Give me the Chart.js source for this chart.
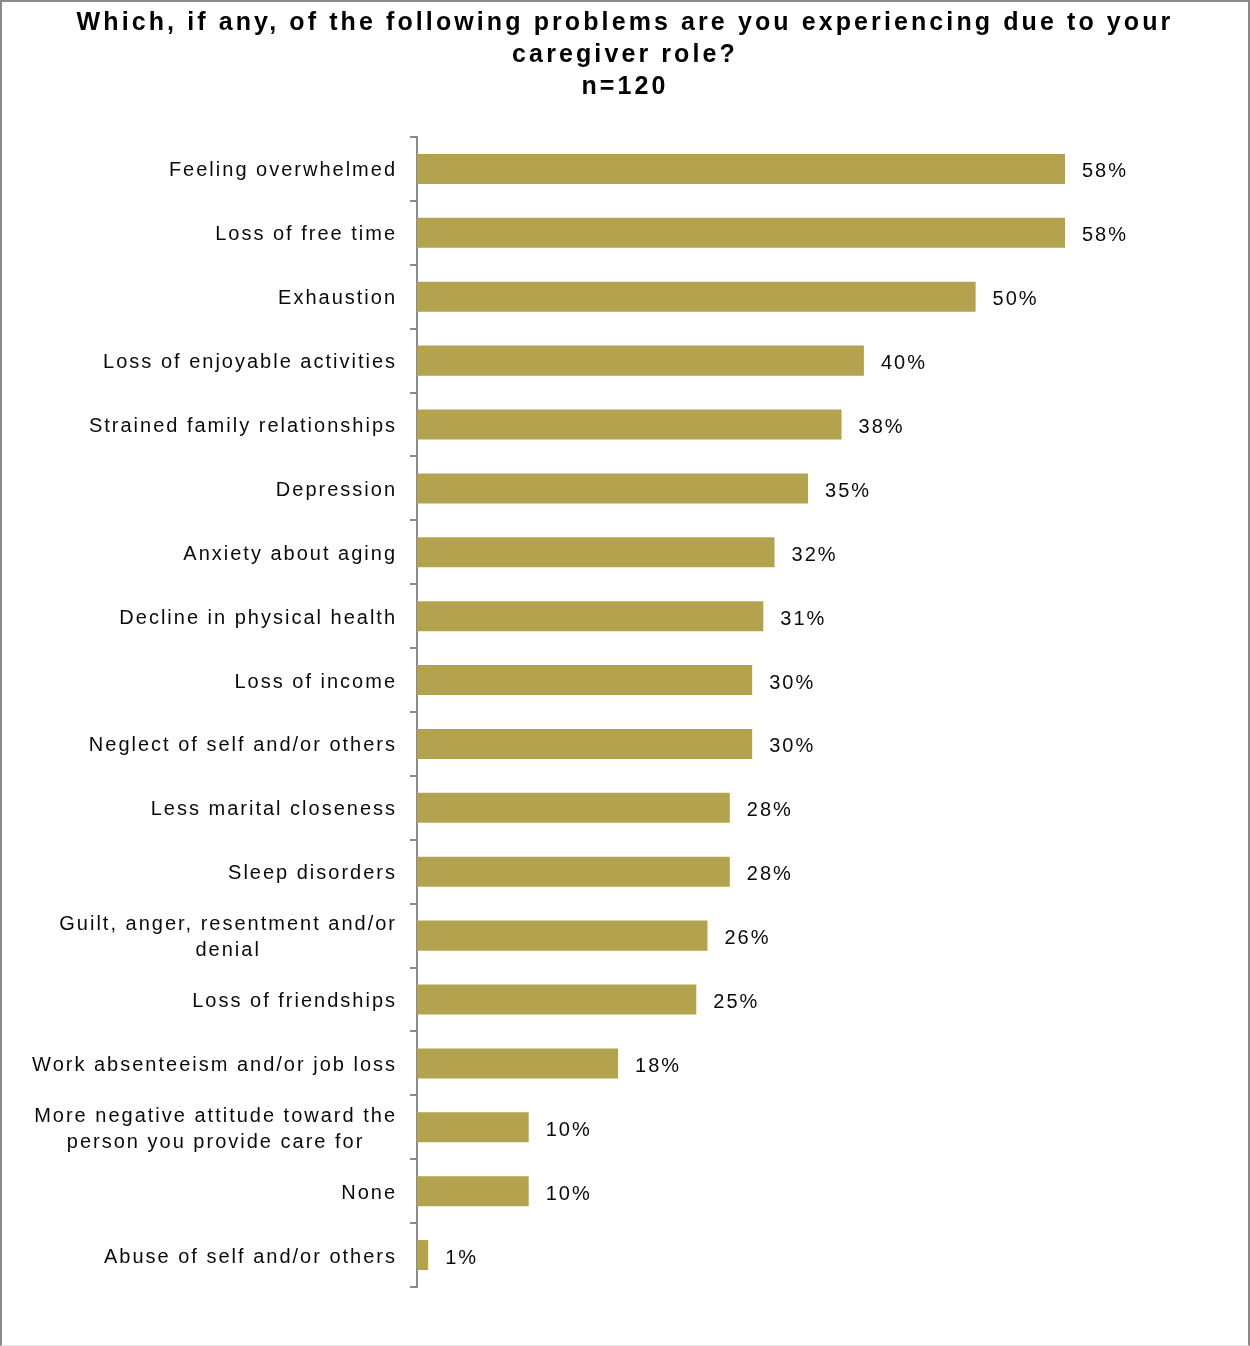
<!DOCTYPE html>
<html>
<head>
<meta charset="utf-8">
<script src="https://cdn.jsdelivr.net/npm/chart.js@4.4.1/dist/chart.umd.min.js"></script>
<style>
  html, body { margin: 0; padding: 0; background: #fff; }
  #wrap { position: relative; width: 1250px; height: 1346px; }
  #c { position: absolute; left: 0; top: 0; }
  #frame { position: absolute; left: 0; top: 0; width: 1250px; height: 1346px; box-sizing: border-box;
    border-top: 2px solid #8a8a8a; border-left: 2px solid #8a8a8a; border-right: 2px solid #8a8a8a;
    border-bottom: 1px solid #e2e2e2; pointer-events: none; }
</style>
</head>
<body>
<div id="wrap">
  <canvas id="c" width="1250" height="1346"></canvas>
  <div id="frame"></div>
</div>
<script>
const titleLines = [
  "Which, if any, of the following problems are you experiencing due to your",
  "caregiver role?",
  "n=120"
];
const categories = [
  ["Feeling overwhelmed"],
  ["Loss of free time"],
  ["Exhaustion"],
  ["Loss of enjoyable activities"],
  ["Strained family relationships"],
  ["Depression"],
  ["Anxiety about aging"],
  ["Decline in physical health"],
  ["Loss of income"],
  ["Neglect of self and/or others"],
  ["Less marital closeness"],
  ["Sleep disorders"],
  ["Guilt, anger, resentment and/or", "denial"],
  ["Loss of friendships"],
  ["Work absenteeism and/or job loss"],
  ["More negative attitude toward the", "person you provide care for"],
  ["None"],
  ["Abuse of self and/or others"]
];
const values = [58, 58, 50, 40, 38, 35, 32, 31, 30, 30, 28, 28, 26, 25, 18, 10, 10, 1];
const valueSuffix = "%";

const BAR_COLOR = "#b3a24e";
const AXIS_COLOR = "#8c8c8c";
const FONT = "'Liberation Sans', Arial, sans-serif";

const spacingPlugin = {
  id: 'spacing',
  beforeDraw(chart) { chart.ctx.letterSpacing = '3.1px'; }
};

const labelsPlugin = {
  id: 'customLabels',
  afterDraw(chart) {
    const ctx = chart.ctx;
    const y = chart.scales.y;
    const x = chart.scales.x;
    ctx.save();
    ctx.letterSpacing = '2px';
    ctx.fillStyle = '#0a0a0a';
    ctx.font = "20px " + FONT;
    ctx.textBaseline = 'middle';
    const rightEdge = 397;
    const lh = 26;
    categories.forEach((lines, i) => {
      const py = y.getPixelForValue(i) + 2;
      const widths = lines.map(l => ctx.measureText(l).width);
      const maxW = Math.max(...widths);
      const cx = rightEdge - maxW / 2;
      ctx.textAlign = 'center';
      const startY = py - (lines.length - 1) * lh / 2;
      lines.forEach((l, k) => ctx.fillText(l, cx, startY + k * lh));
    });
    ctx.textAlign = 'left';
    values.forEach((v, i) => {
      const py = y.getPixelForValue(i);
      const px = x.getPixelForValue(v);
      ctx.fillText(v + valueSuffix, px + 17, py + 3);
    });
    ctx.restore();
  }
};

new Chart(document.getElementById('c'), {
  type: 'bar',
  data: {
    labels: categories,
    datasets: [{
      data: values,
      backgroundColor: BAR_COLOR,
      borderWidth: 0,
      categoryPercentage: 1.0,
      barPercentage: 0.47
    }]
  },
  options: {
    indexAxis: 'y',
    responsive: false,
    animation: false,
    devicePixelRatio: 1,
    layout: { padding: { top: 0, left: 0, right: 0, bottom: 59 } },
    plugins: {
      legend: { display: false },
      tooltip: { enabled: false },
      title: {
        display: true,
        text: titleLines,
        color: '#000',
        font: { family: FONT, size: 25, weight: 'bold', lineHeight: 32 / 25 },
        padding: { top: 7, bottom: 34 }
      }
    },
    scales: {
      x: { display: false, min: 0, max: 74.56 },
      y: {
        afterFit(s) { s.width = 417; },
        ticks: { display: false },
        grid: {
          offset: true,
          drawOnChartArea: false,
          drawTicks: true,
          tickLength: 7,
          color: AXIS_COLOR,
          lineWidth: 2
        },
        border: { display: true, color: AXIS_COLOR, width: 2 }
      }
    }
  },
  plugins: [spacingPlugin, labelsPlugin]
});
</script>
</body>
</html>
